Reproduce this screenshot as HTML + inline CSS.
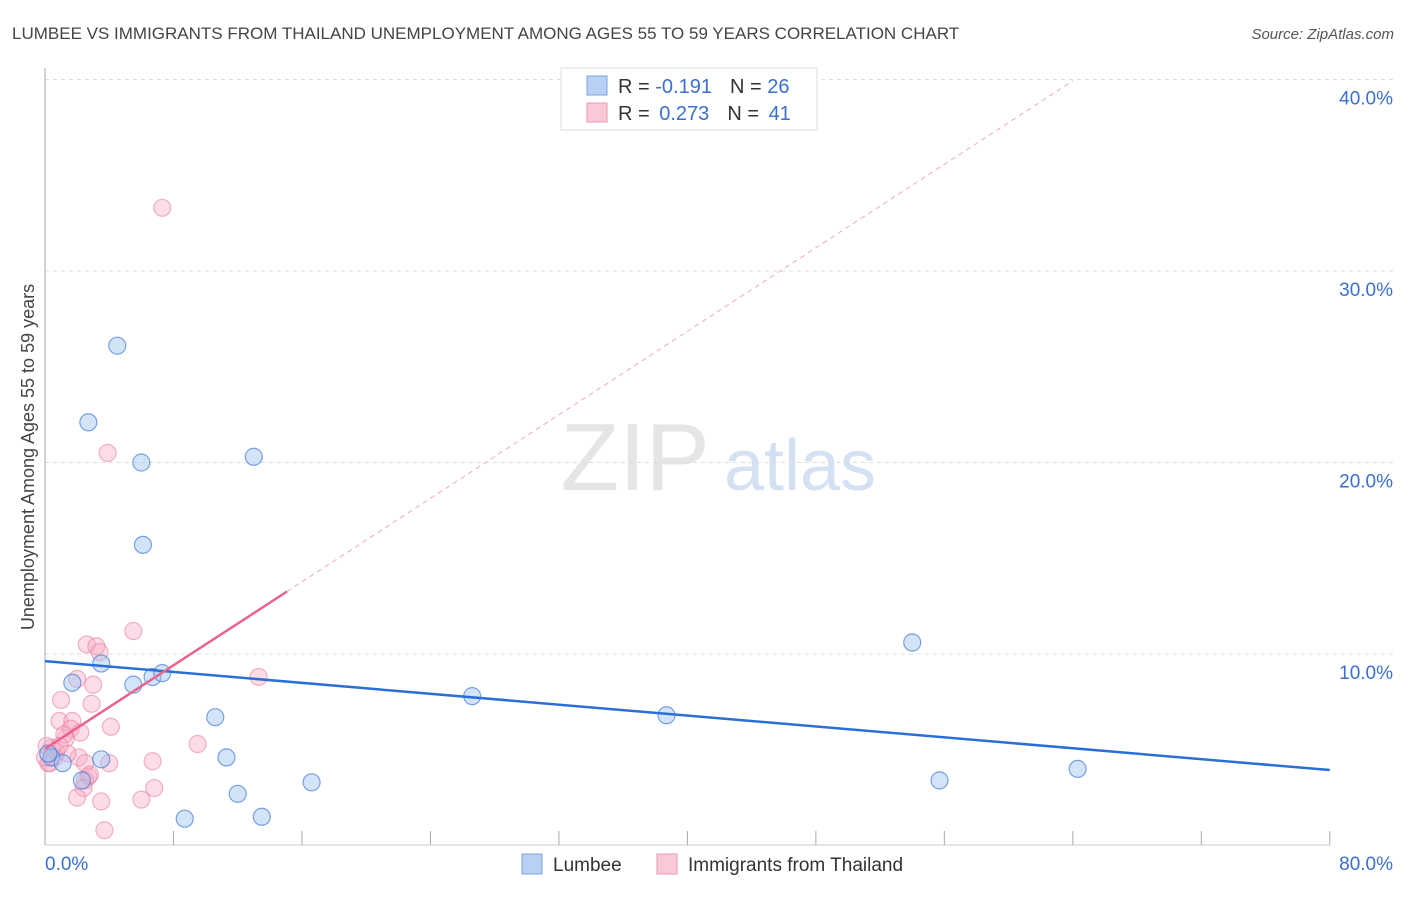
<!DOCTYPE html>
<html><head><meta charset="utf-8"><style>
body{margin:0;background:#fff;font-family:"Liberation Sans",sans-serif;}
svg text{font-family:"Liberation Sans",sans-serif;}
</style></head><body>
<svg id="chart" width="1406" height="892" xmlns="http://www.w3.org/2000/svg">
<text x="12" y="39" font-size="17" fill="#444">LUMBEE VS IMMIGRANTS FROM THAILAND UNEMPLOYMENT AMONG AGES 55 TO 59 YEARS CORRELATION CHART</text>
<text x="1394" y="39" font-size="15" fill="#555" text-anchor="end" font-style="italic">Source: ZipAtlas.com</text>
<text transform="translate(34,457) rotate(-90)" font-size="18" fill="#444" text-anchor="middle">Unemployment Among Ages 55 to 59 years</text>
<g opacity="0.5">
<text x="635" y="490" font-size="96" font-family="Liberation Serif,serif" fill="#ccc" text-anchor="middle">ZIP</text>
<text x="800" y="490" font-size="72" fill="#aac4e8" text-anchor="middle">atlas</text>
</g>
<g id="grid"></g><g id="axes"></g><g id="marks"></g>
<g>
<rect x="561" y="68" width="256" height="62" fill="#fff" stroke="#ddd"/>
<rect x="587" y="76" width="20" height="19" fill="#b8d0f4" stroke="#7aa3e0"/>
<text x="618" y="93" font-size="20" fill="#333">R = <tspan fill="#3a6fd0">-0.191</tspan><tspan dx="18">N = </tspan><tspan fill="#3a6fd0">26</tspan></text>
<rect x="587" y="103" width="20" height="19" fill="#fac8d6" stroke="#ec9ab3"/>
<text x="618" y="120" font-size="20" fill="#333">R = <tspan fill="#3a6fd0" dx="4">0.273</tspan><tspan dx="18">N = </tspan><tspan fill="#3a6fd0" dx="4">41</tspan></text>
</g>
<g>
<rect x="522" y="854" width="20" height="20" fill="#b8d0f4" stroke="#7aa3e0"/>
<text x="553" y="871" font-size="19" fill="#333">Lumbee</text>
<rect x="657" y="854" width="20" height="20" fill="#fac8d6" stroke="#ec9ab3"/>
<text x="688" y="871" font-size="19" fill="#333">Immigrants from Thailand</text>
</g>
</svg>
<script>
const lumbeeX=[4.5,2.7,6.0,13.0,6.1,54.0,3.5,1.7,5.5,6.7,7.3,26.6,38.7,10.6,11.3,3.5,2.3,16.6,55.7,64.3,12.0,8.7,13.5,0.4,0.2,1.1];
const lumbeeY=[26.1,22.1,20.0,20.3,15.7,10.6,9.5,8.5,8.4,8.8,9.0,7.8,6.8,6.7,4.6,4.5,3.4,3.3,3.4,4.0,2.7,1.4,1.5,4.6,4.8,4.3];
const thaiX=[7.3,3.9,5.5,2.6,3.2,3.4,13.3,2.0,3.0,1.0,2.9,0.9,1.7,1.6,2.2,4.1,1.3,9.5,0.4,0.7,2.1,6.7,4.0,2.5,0.2,0.3,2.7,2.5,2.4,6.8,2.0,6.0,3.5,3.7,1.4,0.6,0.1,1.2,2.8,0.0,0.9];
const thaiY=[33.3,20.5,11.2,10.5,10.4,10.1,8.8,8.7,8.4,7.6,7.4,6.5,6.5,6.1,5.9,6.2,5.6,5.3,5.1,4.9,4.6,4.4,4.3,4.3,4.3,4.3,3.6,3.4,3.0,3.0,2.5,2.4,2.3,0.8,4.8,4.6,5.2,5.8,3.7,4.6,5.2];
const yTicks=[10,20,30,40];
const yTickLabels=["10.0%","20.0%","30.0%","40.0%"];
const xTicks=[0,8,16,24,32,40,48,56,64,72,80];
const lumbeeLine=[9.63,3.94];
const thaiLine=[5.05,0.545];
const thaiSolidEnd=15.07;
const thaiDashEnd=64.0;

const X=v=>45+v*16.06, Y=v=>845.5-v*19.15;
const NS="http://www.w3.org/2000/svg";
function mk(parent,tag,attrs){const e=document.createElementNS(NS,tag);for(const k in attrs)e.setAttribute(k,attrs[k]);document.getElementById(parent).appendChild(e);return e;}
yTicks.forEach((t,i)=>{
 const l=mk('grid','line',{x1:45,x2:1394,y1:Y(t),y2:Y(t),stroke:'#ddd','stroke-dasharray':'4,4'});
 
 
 const tx=mk('grid','text',{x:1393,y:Y(t)+25,'font-size':19,fill:'#3a6fd0','text-anchor':'end'});
 tx.textContent=yTickLabels[i];
 
 
});
const ax=mk('axes','line',{x1:45,x2:1330,y1:845,y2:845,stroke:'#ccc'});


const ay=mk('axes','line',{x1:45,x2:45,y1:68,y2:845,stroke:'#aaa'});


xTicks.forEach(t=>{
 const l=mk('axes','line',{x1:X(t),x2:X(t),y1:831,y2:845,stroke:'#aaa'});
 
 
});
const xl0=mk('axes','text',{x:45,y:870,'font-size':19,fill:'#3a6fd0'});xl0.textContent=xTicks[0].toFixed(1)+'%';


const xl1=mk('axes','text',{x:1393,y:870,'font-size':19,fill:'#3a6fd0','text-anchor':'end'});xl1.textContent=xTicks[xTicks.length-1].toFixed(1)+'%';



thaiX.forEach((x,i)=>{
 const c=mk('marks','circle',{cx:X(x),cy:Y(thaiY[i]),r:8.5,fill:'rgba(247,170,195,0.4)',stroke:'rgba(232,130,165,0.6)','stroke-width':1.2});
 
 
});
lumbeeX.forEach((x,i)=>{
 const c=mk('marks','circle',{cx:X(x),cy:Y(lumbeeY[i]),r:8.5,fill:'rgba(160,195,240,0.45)',stroke:'rgba(70,125,215,0.7)','stroke-width':1.2});
 
 
});
const bl=mk('marks','line',{x1:X(0),y1:Y(lumbeeLine[0]),x2:X(80),y2:Y(lumbeeLine[1]),stroke:'#2a6fd6','stroke-width':2.5});


const pd=mk('marks','line',{x1:X(thaiSolidEnd),y1:Y(thaiLine[0]+thaiLine[1]*thaiSolidEnd),x2:X(thaiDashEnd),y2:Y(thaiLine[0]+thaiLine[1]*thaiDashEnd),stroke:'#eeaabd','stroke-width':1,'stroke-dasharray':'5,4'});


const ps=mk('marks','line',{x1:X(0),y1:Y(thaiLine[0]),x2:X(thaiSolidEnd),y2:Y(thaiLine[0]+thaiLine[1]*thaiSolidEnd),stroke:'#e8648e','stroke-width':2.5});


</script>
</body></html>
